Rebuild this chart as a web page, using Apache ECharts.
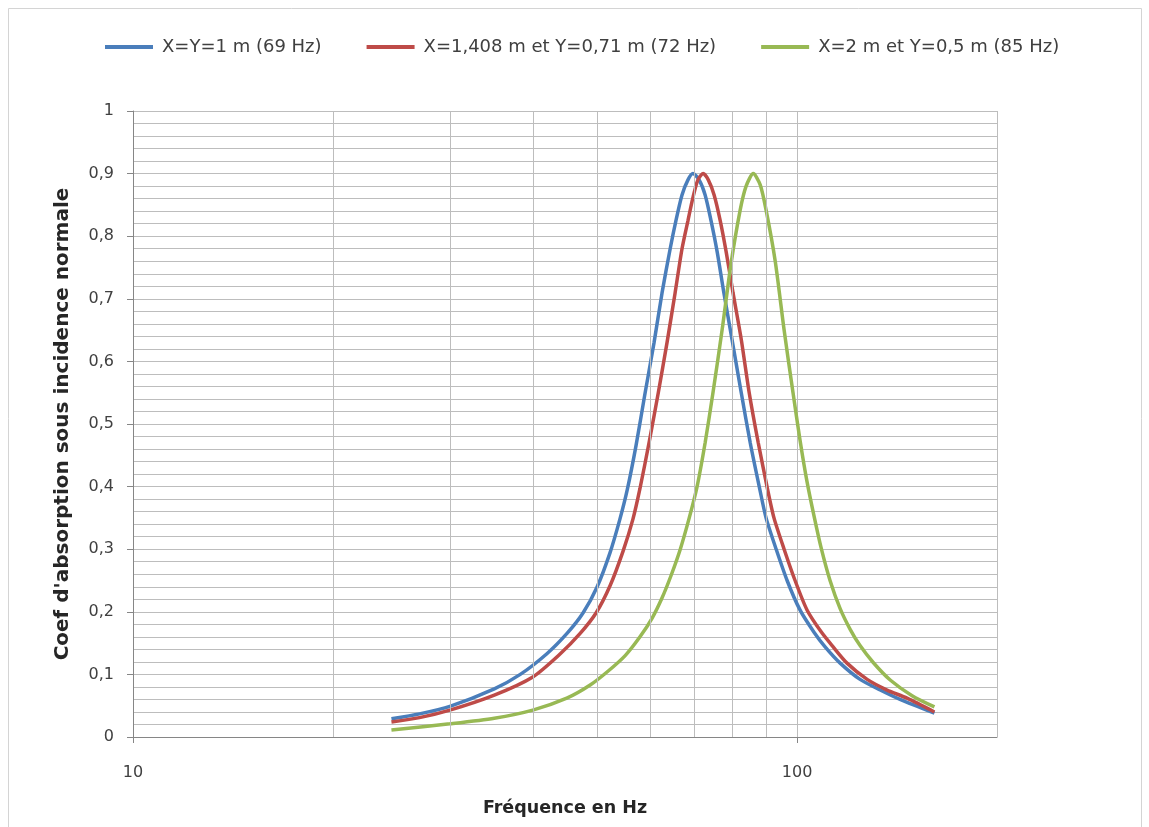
<!DOCTYPE html>
<html>
<head>
<meta charset="utf-8">
<script src="https://cdn.jsdelivr.net/npm/echarts@6/dist/echarts.min.js"></script>
<style>
html,body{margin:0;padding:0;background:#fff;}
#chart{width:1149px;height:827px;}
</style>
</head>
<body>
<div id="chart"></div>
<script>
// ---- Data ----
const seriesNames = ['X=Y=1 m (69 Hz)', 'X=1,408 m et Y=0,71 m (72 Hz)', 'X=2 m et Y=0,5 m (85 Hz)'];

const blueFreq = [24.5, 27.0, 30.0, 35.0, 38.3, 42.0, 45.0, 47.6, 50.0, 52.3, 54.1, 55.5, 57.2, 59.0, 60.9, 62.6, 64.4, 65.7, 67.1, 68.5, 69.7, 71.2, 72.7, 74.2, 75.8, 77.6, 79.8, 82.4, 85.0, 87.7, 89.8, 93.0, 96.6, 101.0, 106.1, 110.2, 116.1, 124.4, 133.4, 142.9, 161];
const blueVal  = [0.029, 0.037, 0.049, 0.077, 0.100, 0.133, 0.165, 0.198, 0.240, 0.295, 0.348, 0.395, 0.465, 0.548, 0.630, 0.709, 0.780, 0.825, 0.866, 0.890, 0.900, 0.890, 0.866, 0.825, 0.775, 0.709, 0.635, 0.550, 0.470, 0.400, 0.350, 0.300, 0.250, 0.203, 0.167, 0.144, 0.118, 0.092, 0.075, 0.060, 0.038];

const redFreq = [24.5, 27.0, 30.0, 35.0, 40.0, 44.0, 47.1, 49.8, 52.3, 54.7, 56.6, 58.0, 59.8, 61.8, 63.7, 65.5, 67.1, 68.5, 69.7, 70.9, 72.2, 73.5, 75.0, 76.6, 78.2, 80.1, 82.4, 84.7, 87.4, 90.1, 92.3, 95.6, 99.3, 103.5, 108.7, 112.9, 118.9, 127.5, 136.6, 146.4, 161];
const redVal  = [0.024, 0.031, 0.043, 0.067, 0.096, 0.133, 0.165, 0.198, 0.242, 0.297, 0.348, 0.397, 0.468, 0.550, 0.630, 0.709, 0.780, 0.825, 0.862, 0.890, 0.900, 0.890, 0.866, 0.825, 0.775, 0.709, 0.635, 0.550, 0.470, 0.400, 0.350, 0.300, 0.250, 0.203, 0.168, 0.146, 0.118, 0.092, 0.075, 0.062, 0.040];

const greenFreq = [24.5, 30.0, 35.0, 40.0, 45.0, 48.8, 51.9, 55.1, 58.0, 60.5, 62.6, 64.6, 66.7, 68.8, 70.7, 72.7, 74.7, 77.1, 79.5, 82.1, 83.8, 85.9, 88.0, 89.8, 92.7, 95.6, 98.6, 101.0, 103.5, 106.1, 108.7, 112.1, 116.1, 120.2, 124.4, 130.2, 138.1, 149.0, 161];
const greenVal  = [0.011, 0.021, 0.030, 0.043, 0.062, 0.083, 0.105, 0.130, 0.160, 0.190, 0.222, 0.258, 0.300, 0.350, 0.400, 0.470, 0.550, 0.650, 0.755, 0.842, 0.880, 0.900, 0.882, 0.842, 0.760, 0.650, 0.550, 0.475, 0.408, 0.352, 0.302, 0.250, 0.205, 0.172, 0.146, 0.119, 0.091, 0.066, 0.048];

const xGridFreqs = [20, 30, 40, 50, 60, 70, 80, 90, 200];
const xTitle = 'Fréquence en Hz';
const yTitle = "Coef d'absorption sous incidence normale";

const colors = ['#4a7ebb', '#be4b48', '#98b954'];
const gridColor = '#bdbdbd';
const font = "'DejaVu Sans', 'Noto Sans', sans-serif";

function pairs(f, v) { return f.map((x, i) => [x, v[i]]); }

const chart = echarts.init(document.getElementById('chart'), null, {renderer: 'canvas'});

const curveSeries = [
  pairs(blueFreq, blueVal),
  pairs(redFreq, redVal),
  pairs(greenFreq, greenVal)
].map((d, i) => ({
  name: seriesNames[i],
  type: 'line',
  data: d,
  smooth: 0.25,
  showSymbol: false,
  symbol: 'none',
  z: 3,
  lineStyle: {color: colors[i], width: 3.5},
  itemStyle: {color: colors[i]}
}));

const option = {
  animation: false,
  backgroundColor: '#ffffff',
  graphic: [{
    type: 'rect',
    shape: {x: 8.5, y: 8.5, width: 1133, height: 830},
    style: {fill: 'none', stroke: '#d4d4d4', lineWidth: 1},
    silent: true, z: -1
  }],
  legend: {
    data: seriesNames,
    top: 33,
    left: 100,
    icon: 'rect',
    itemWidth: 48,
    itemHeight: 4,
    itemGap: 45,
    textStyle: {fontFamily: font, fontSize: 18, color: '#404040', padding: [0, 0, 0, 4]}
  },
  grid: {left: 133, right: 152, top: 111, bottom: 90, containLabel: false},
  xAxis: {
    type: 'log',
    logBase: 10,
    min: 10,
    max: 200,
    name: xTitle,
    nameLocation: 'middle',
    nameGap: 62,
    nameTextStyle: {fontFamily: font, fontSize: 17.5, fontWeight: 'bold', color: '#262626'},
    axisLine: {show: true, lineStyle: {color: '#868686', width: 1}},
    axisTick: {show: true, length: 6, lineStyle: {color: '#868686'}},
    axisLabel: {fontFamily: font, fontSize: 16, color: '#404040', margin: 28, showMaxLabel: false},
    splitLine: {show: true, lineStyle: {color: gridColor, width: 1}},
    minorTick: {show: false},
    minorSplitLine: {show: false}
  },
  yAxis: {
    type: 'value',
    min: 0,
    max: 1,
    interval: 0.1,
    name: yTitle,
    nameLocation: 'middle',
    nameGap: 60,
    nameRotate: 90,
    nameTextStyle: {fontFamily: font, fontSize: 20, fontWeight: 'bold', color: '#262626'},
    axisLine: {show: true, lineStyle: {color: '#868686', width: 1}},
    axisTick: {show: true, length: 6, lineStyle: {color: '#868686'}},
    axisLabel: {
      fontFamily: font, fontSize: 16, color: '#404040', margin: 19,
      formatter: v => String(Math.round(v * 10) / 10).replace('.', ',')
    },
    splitLine: {show: true, lineStyle: {color: gridColor, width: 1}},
    minorTick: {show: false, splitNumber: 5},
    minorSplitLine: {show: true, lineStyle: {color: gridColor, width: 1}}
  },
  series: [{
    name: 'grid',
    type: 'line',
    data: [],
    z: 1,
    silent: true,
    markLine: {
      silent: true,
      symbol: ['none', 'none'],
      label: {show: false},
      emphasis: {disabled: true},
      lineStyle: {color: gridColor, type: 'solid', width: 1},
      data: xGridFreqs.map(f => ({xAxis: f}))
    }
  }].concat(curveSeries)
};

chart.setOption(option);
</script>
</body>
</html>
